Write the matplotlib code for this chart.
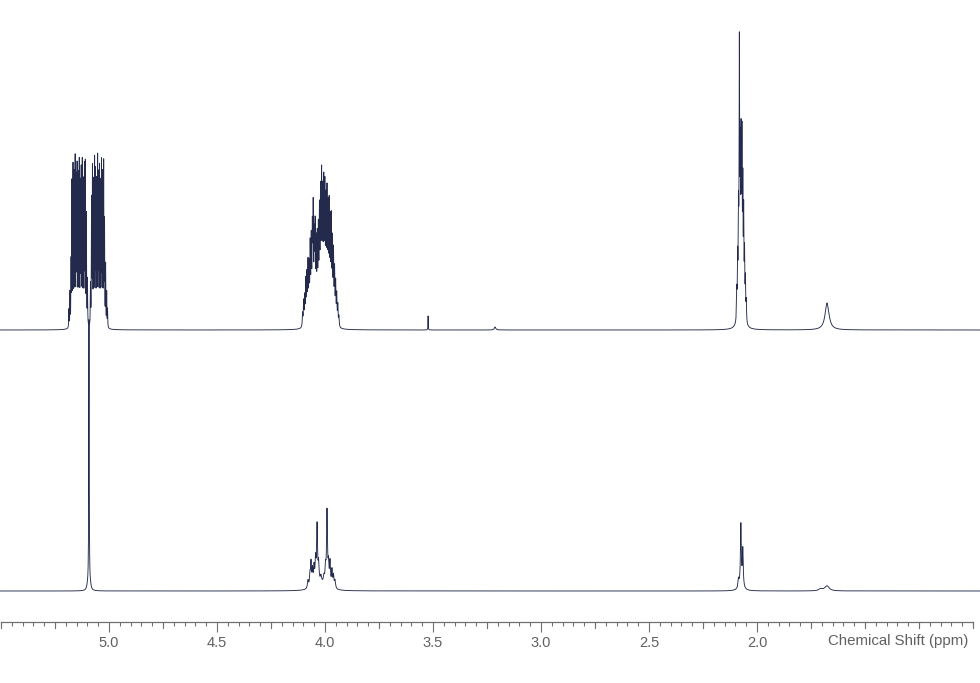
import numpy as np
import matplotlib.pyplot as plt
import matplotlib.transforms as mtransforms
from matplotlib.ticker import MultipleLocator, FixedLocator

# ---- peak lists (shift in ppm, height, half width in ppm) ----
# upper trace
top_shift = [5.186, 5.181, 5.176, 5.172, 5.167, 5.162, 5.157, 5.152, 5.148, 5.143,
             5.138, 5.133, 5.129, 5.124, 5.119, 5.114, 5.110, 5.105, 5.100,
             5.086, 5.081, 5.077, 5.072, 5.067, 5.063, 5.058, 5.053, 5.049, 5.044,
             5.039, 5.035, 5.030, 5.025, 5.021, 5.016, 5.011, 5.007,
             4.104, 4.099, 4.094, 4.089, 4.084, 4.079, 4.074, 4.069, 4.064, 4.059,
             4.055, 4.050, 4.046, 4.041, 4.036, 4.031, 4.026, 4.021, 4.016, 4.011,
             4.006, 4.001, 3.996, 3.991, 3.986, 3.981, 3.976, 3.971, 3.966, 3.961,
             3.956, 3.951, 3.946, 3.941, 3.936,
             3.523, 3.213,
             2.094, 2.090, 2.086, 2.082, 2.078, 2.074, 2.070, 2.066, 2.062, 2.058, 2.054,
             2.050, 2.074,
             1.676]
top_height = [18, 34, 62, 140, 155, 146, 162, 140, 152, 144,
              158, 134, 148, 158, 138, 152, 156, 108, 45,
              40, 122, 152, 138, 158, 146, 138, 160, 142, 152,
              134, 156, 146, 158, 100, 60, 34, 18,
              13, 24, 27, 42, 46, 57, 52, 72, 76, 83,
              104, 74, 86, 71, 76, 83, 100, 116, 132, 113,
              124, 120, 106, 116, 101, 106, 90, 95, 74, 66,
              50, 39, 29, 20, 10,
              14, 3,
              28, 55, 90, 255, 135, 150, 155, 115, 95, 60, 38,
              20, 15,
              27]
top_width = ([0.0009] * 37 + [0.0016] * 35 + [0.0008, 0.004] + [0.0014] * 12 +
             [0.009] + [0.011])

# lower trace
low_shift = [5.093, 5.100, 5.086,
             4.079, 4.070, 4.065, 4.058, 4.051, 4.044, 4.037, 4.030, 4.019, 4.005,
             3.998, 3.991, 3.984, 3.977, 3.968, 3.961, 3.954, 4.02,
             2.086, 2.075, 2.066, 2.074,
             1.676, 1.705]
low_height = [270, 3, 3,
              8, 12, 24, 16, 18, 24, 58, 18, 6, 7,
              16, 74, 20, 24, 17, 12, 8, 7,
              8, 57, 36, 9,
              5, 2]
low_width = [0.0012, 0.004, 0.004,
             0.003, 0.0025, 0.0025, 0.0025, 0.0025, 0.0025, 0.0025, 0.0025, 0.003, 0.003,
             0.0025, 0.0025, 0.0025, 0.0025, 0.0025, 0.0025, 0.003, 0.025,
             0.0025, 0.0022, 0.0022, 0.009,
             0.012, 0.01]

top_offset = 261          # upper trace sits above the lower one
major_labels = [5.0, 4.5, 4.0, 3.5, 3.0, 2.5, 2.0]


def spectrum(ppm, shifts, heights, widths):
    y = np.zeros_like(ppm)
    for s, h, w in zip(shifts, heights, widths):
        y += h / (1 + ((ppm - s) / w) ** 2)
    return y


ppm = np.arange(0.968, 5.505, 0.0001)
upper = spectrum(ppm, top_shift, top_height, top_width) + top_offset
lower = spectrum(ppm, low_shift, low_height, low_width)

fig = plt.figure(figsize=(9.8, 6.83), dpi=100)
ax = fig.add_axes([0, 61 / 683, 1, 622 / 683])

line_col = "#232a4c"
ax.plot(ppm, upper, color=line_col, lw=0.65)
ax.plot(ppm, lower, color=line_col, lw=0.65)

ax.set_xlim(5.505, 0.968)
ax.set_ylim(-31, 591)

for s in ["top", "left", "right"]:
    ax.spines[s].set_visible(False)
ax.spines["bottom"].set_bounds(1.0, 5.5)
ax.spines["bottom"].set_color("#707070")
ax.spines["bottom"].set_linewidth(0.9)
ax.set_yticks([])

ax.xaxis.set_major_locator(FixedLocator(major_labels))
ax.xaxis.set_minor_locator(MultipleLocator(0.05))
ax.set_xticklabels(["%.1f" % v for v in major_labels])
ax.tick_params(axis="x", which="major", length=7, width=0.8, color="#707070",
               labelsize=10.5, labelcolor="#606060", pad=3)
ax.tick_params(axis="x", which="minor", length=3, width=0.8, color="#707070")
# medium ticks every 0.25 ppm and the unlabelled ends
for v in np.arange(1.0, 5.51, 0.25):
    if round(v, 2) not in major_labels:
        ax.plot([v, v], [-31, -31 - 5.5], color="#707070", lw=0.8, clip_on=False)
for s in ax.get_xticklabels():
    s.set_fontfamily("Liberation Sans")

trans = mtransforms.blended_transform_factory(ax.transData, ax.transAxes)
ax.text(1.024, -0.0305, "Chemical Shift (ppm)", transform=trans, ha="right", va="center",
        fontsize=10.8, color="#606060", family="Liberation Sans")

fig.savefig("out.png", dpi=100, facecolor="white")
